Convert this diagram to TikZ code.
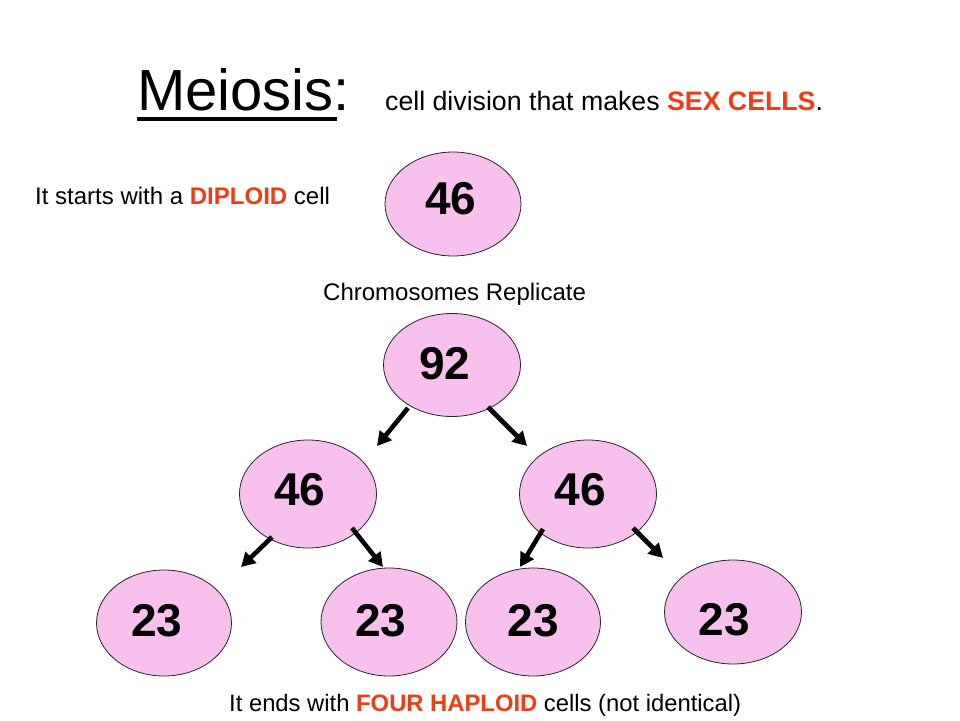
\documentclass[tikz,border=0pt]{standalone}
\usepackage{fontspec}
\setmainfont{Liberation Sans}
\usetikzlibrary{shapes.geometric,arrows.meta}
\definecolor{cellpink}{RGB}{248,192,236}
\definecolor{hired}{RGB}{240,60,20}
\newcommand\cellnum[3]{\kern#1\raisebox{#2}[\height][\depth]{#3}}
\tikzset{
  cell/.style={ellipse,draw=black!85,line width=0.8pt,fill=cellpink,inner sep=0pt,
    font=\fontsize{46}{50}\selectfont\bfseries},
  txt/.style={inner sep=0pt,anchor=base west,font=\fontsize{24}{28}\selectfont},
  splitarrow/.style={line width=4.6pt,-{Triangle[length=14pt,width=15pt]}}
}
\begin{document}
\begin{tikzpicture}[x=1pt,y=-1pt]
\useasboundingbox (0,0) rectangle (960,720);
% title
\node[inner sep=0pt,anchor=base west,font=\fontsize{58}{62}\selectfont] (mei) at (137,110) {Meiosis:};
\coordinate (ulA) at (137,119);
\coordinate (ulB) at (337,119);
\draw[line width=4pt] (ulA) -- (ulB);
\node[inner sep=0pt,anchor=base west,font=\fontsize{26.7}{30}\selectfont] (sub) at (385,110)
  {cell division that makes \textcolor{hired}{\textbf{SEX CELLS}}.};
% texts
\node[txt] (start) at (35,204) {It starts with a \textcolor{hired}{\textbf{DIPLOID}} cell};
\node[txt] (repl) at (323,300) {Chromosomes Replicate};
\node[txt,font=\fontsize{23.8}{28}\selectfont] (ends) at (229,711) {It ends with \textcolor{hired}{\textbf{FOUR HAPLOID}} cells (not identical)};
% cells
\node[cell,minimum width=136pt,minimum height=104pt] (c0) at (453,204) {\cellnum{-4pt}{5pt}{46}};
\node[cell,minimum width=137pt,minimum height=103pt] (c1) at (452,365) {\cellnum{-14pt}{1.5pt}{92}};
\node[cell,minimum width=137pt,minimum height=108pt] (c2) at (308,494) {\cellnum{-16pt}{4pt}{46}};
\node[cell,minimum width=137pt,minimum height=108pt] (c3) at (588,494) {\cellnum{-16pt}{4pt}{46}};
\node[cell,minimum width=135pt,minimum height=106pt] (c4) at (164,623) {\cellnum{-14pt}{2pt}{23}};
\node[cell,minimum width=136pt,minimum height=108pt] (c5) at (389,622) {\cellnum{-16pt}{1pt}{23}};
\node[cell,minimum width=135pt,minimum height=108pt] (c6) at (533,622) {\cellnum{0pt}{1pt}{23}};
\node[cell,minimum width=137pt,minimum height=104pt] (c7) at (733,612) {\cellnum{-17pt}{-7.5pt}{23}};
% arrows
\coordinate (a1s) at (408,408); \coordinate (a1e) at (377,446);
\coordinate (a2s) at (488,407); \coordinate (a2e) at (527,446);
\coordinate (a3s) at (272,537); \coordinate (a3e) at (241,567);
\coordinate (a4s) at (352,528); \coordinate (a4e) at (383,567);
\coordinate (a5s) at (543,529); \coordinate (a5e) at (520,567);
\coordinate (a6s) at (633,528); \coordinate (a6e) at (663,558);
\draw[splitarrow] (a1s) -- (a1e);
\draw[splitarrow] (a2s) -- (a2e);
\draw[splitarrow] (a3s) -- (a3e);
\draw[splitarrow] (a4s) -- (a4e);
\draw[splitarrow] (a5s) -- (a5e);
\draw[splitarrow] (a6s) -- (a6e);
\end{tikzpicture}
\end{document}
